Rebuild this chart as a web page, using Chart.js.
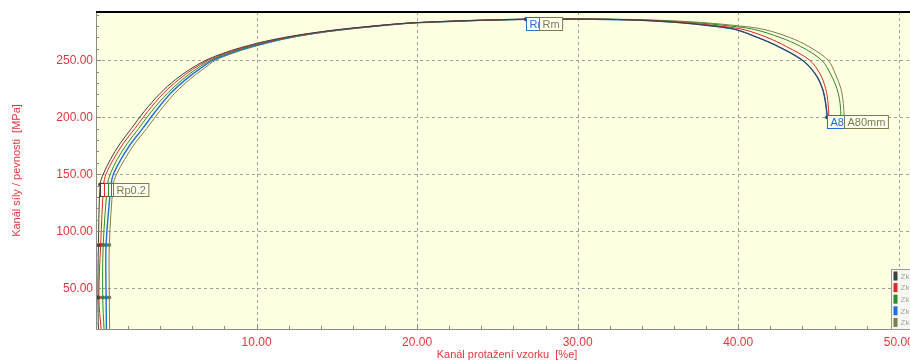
<!DOCTYPE html>
<html>
<head>
<meta charset="utf-8">
<script src="https://cdn.jsdelivr.net/npm/chart.js@4.4.0/dist/chart.umd.min.js"></script>
<style>
  html, body { margin: 0; padding: 0; background: #fff; overflow: hidden; }
  #wrap { width: 920px; height: 362px; }
</style>
</head>
<body>
<div id="wrap"><canvas id="trhChart" width="920" height="362"></canvas></div>
<script>
// napětí [MPa] - společné úrovně pro všechny vzorky (nárůst, maximum, pokles)
const napeti = [14, 42, 88, 141, 150, 163, 177, 190, 205, 221, 233, 242, 250, 256, 261, 268, 274, 279, 283,
                286,
                286, 285, 283, 280, 277, 270, 262, 250, 238, 225, 212, 200];

// protažení [%] jednotlivých vzorků
const protazeniZk1 = [0.15, 0.12, 0.15, 0.26, 0.45, 0.90, 1.50, 2.20, 3.00, 4.00, 4.95, 5.85, 6.85, 7.90, 9.00, 11.0, 13.5, 16.5, 20.0,
                      26.8,
                      31.0, 34.0, 36.3, 38.4, 39.8, 41.2, 42.5, 44.0, 44.8, 45.25, 45.45, 45.55];
const protazeniZk2 = [0.32, 0.18, 0.29, 0.48, 0.62, 1.08, 1.70, 2.42, 3.22, 4.20, 5.15, 6.02, 7.00, 8.05, 9.15, 11.15, 13.6, 16.6, 20.0,
                      26.8,
                      31.0, 34.2, 36.6, 38.8, 40.3, 41.8, 43.0, 44.45, 45.1, 45.45, 45.6, 45.65];
const protazeniZk3 = [0.50, 0.42, 0.45, 0.72, 0.88, 1.32, 1.95, 2.65, 3.45, 4.45, 5.38, 6.22, 7.15, 8.20, 9.30, 11.3, 13.7, 16.7, 20.1,
                      27.5,
                      31.5, 34.6, 37.2, 39.5, 41.0, 42.6, 43.9, 45.2, 45.75, 46.15, 46.35, 46.4];
const protazeniZk4 = [0.65, 0.63, 0.63, 0.94, 1.08, 1.55, 2.18, 2.90, 3.70, 4.65, 5.58, 6.42, 7.30, 8.35, 9.45, 11.4, 13.8, 16.8, 20.1,
                      26.8,
                      31.0, 34.0, 36.3, 38.4, 39.8, 41.2, 42.5, 44.0, 44.8, 45.25, 45.45, 45.55];
const protazeniZk5 = [0.85, 0.83, 0.83, 1.08, 1.28, 1.78, 2.42, 3.15, 3.95, 4.90, 5.82, 6.65, 7.45, 8.50, 9.60, 11.5, 13.9, 16.9, 20.2,
                      27.6,
                      32.0, 35.2, 37.8, 40.1, 41.6, 43.2, 44.4, 45.6, 46.05, 46.4, 46.55, 46.6];

const nazvyVzorku = ['Zk. 1', 'Zk. 2', 'Zk. 3', 'Zk. 4', 'Zk. 5'];
const barvyVzorku = ['#404040', '#e02828', '#2a8c2a', '#1f6fe0', '#7d7d4a'];

// body s vyznačením a jejich popisky
const znackyIdx = [1, 2, 3, 19, 31];
const popisky = { 3: 'Rp0.2', 19: 'Rm', 31: 'A80mm' };

// popisky os
const xPopisky = [10, 20, 30, 40, 50];
const yPopisky = [50, 100, 150, 200, 250];

const CERVENA = '#e4363c';
const PISMO = "'Liberation Sans', Arial, sans-serif";

const vsechnaProtazeni = [protazeniZk1, protazeniZk2, protazeniZk3, protazeniZk4, protazeniZk5];

const datasety = vsechnaProtazeni.map((prot, i) => ({
    label: nazvyVzorku[i],
    data: prot.map((x, j) => ({ x: x, y: napeti[j] })),
    borderColor: barvyVzorku[i],
    backgroundColor: barvyVzorku[i],
    borderWidth: i === 3 ? 1.4 : 1,
    tension: 0.35,
    pointRadius: ctx => znackyIdx.includes(ctx.dataIndex) ? 2 : 0,
    pointBorderWidth: 0,
    pointHoverRadius: 0
}));

// pozadí plochy grafu, mřížka, okraje a vnitřní rysky
const pozadiPlugin = {
    id: 'pozadi',
    beforeDraw(chart) {
        const { ctx, chartArea: a } = chart;
        ctx.save();
        ctx.fillStyle = '#ffffe1';
        ctx.fillRect(a.left, a.top, a.right - a.left, a.bottom - a.top);
        ctx.restore();
    },
    beforeDatasetsDraw(chart) {
        const { ctx, chartArea: a, scales } = chart;
        ctx.save();
        ctx.strokeStyle = '#a0a0a0';
        ctx.lineWidth = 1;
        ctx.setLineDash([3, 3]);
        yPopisky.forEach(v => {
            const y = Math.round(scales.y.getPixelForValue(v)) + 0.5;
            ctx.beginPath();
            ctx.moveTo(a.left, y);
            ctx.lineTo(a.right, y);
            ctx.stroke();
        });
        xPopisky.forEach(v => {
            const x = Math.round(scales.x.getPixelForValue(v)) + 0.5;
            ctx.beginPath();
            ctx.moveTo(x, a.top);
            ctx.lineTo(x, a.bottom);
            ctx.stroke();
        });
        ctx.restore();
    },
    afterDraw(chart) {
        const { ctx, chartArea: a, scales } = chart;
        ctx.save();
        ctx.strokeStyle = '#8a8a8a';
        ctx.lineWidth = 1;
        // levý a spodní okraj
        ctx.beginPath();
        ctx.moveTo(a.left + 0.5, a.top);
        ctx.lineTo(a.left + 0.5, a.bottom + 0.5);
        ctx.lineTo(a.right, a.bottom + 0.5);
        ctx.stroke();
        // rysky osy y po 10 MPa
        scales.y.ticks.forEach(t => {
            const y = Math.round(scales.y.getPixelForValue(t.value)) + 0.5;
            const len = t.value % 50 === 0 ? 5 : 3;
            ctx.beginPath();
            ctx.moveTo(a.left, y);
            ctx.lineTo(a.left + len, y);
            ctx.stroke();
        });
        // rysky osy x po 2 %
        scales.x.ticks.forEach(t => {
            const x = Math.round(scales.x.getPixelForValue(t.value)) + 0.5;
            const len = t.value % 10 === 0 ? 5 : 3;
            ctx.beginPath();
            ctx.moveTo(x, a.bottom);
            ctx.lineTo(x, a.bottom - len);
            ctx.stroke();
        });
        // horní okraj
        ctx.strokeStyle = '#000';
        ctx.lineWidth = 2;
        ctx.beginPath();
        ctx.moveTo(a.left, a.top);
        ctx.lineTo(a.right, a.top);
        ctx.stroke();
        ctx.restore();
    }
};

// popisky Rp0.2 / Rm / A80mm u vyznačených bodů
const popiskyPlugin = {
    id: 'popisky',
    afterDatasetsDraw(chart) {
        const { ctx } = chart;
        ctx.save();
        ctx.font = '11px ' + PISMO;
        ctx.textBaseline = 'middle';
        chart.data.datasets.forEach((ds, i) => {
            const meta = chart.getDatasetMeta(i);
            Object.keys(popisky).forEach(k => {
                const bod = meta.data[+k];
                const text = popisky[k];
                const w = ctx.measureText(text).width + 6;
                const h = 13;
                const x = Math.round(bod.x) + 0.5;
                const y = Math.round(bod.y) - 1.5;
                ctx.fillStyle = '#fffff4';
                ctx.fillRect(x, y, w, h);
                ctx.strokeStyle = ds.borderColor;
                ctx.lineWidth = 1;
                ctx.strokeRect(x, y, w, h);
                ctx.fillStyle = ds.borderColor;
                ctx.fillText(text, x + 3, y + h / 2 + 0.5);
            });
        });
        ctx.restore();
    }
};

// malá legenda v pravém dolním rohu (částečně mimo okno)
const legendaPlugin = {
    id: 'legendaVzorku',
    afterDraw(chart) {
        const { ctx } = chart;
        const x0 = 891.5, y0 = 269.5;
        ctx.save();
        ctx.fillStyle = '#f7f7f2';
        ctx.fillRect(x0, y0, 60, 60);
        ctx.strokeStyle = '#9a9a9a';
        ctx.strokeRect(x0, y0, 60, 60);
        ctx.font = '8px ' + PISMO;
        ctx.textBaseline = 'middle';
        chart.data.datasets.forEach((ds, i) => {
            const yy = y0 + 2 + i * 11.6;
            ctx.fillStyle = ds.borderColor;
            ctx.fillRect(x0 + 2, yy, 4, 9);
            ctx.fillStyle = '#a5a5a5';
            ctx.fillText(ds.label, x0 + 9, yy + 5);
        });
        ctx.restore();
    }
};

new Chart(document.getElementById('trhChart'), {
    type: 'line',
    data: { datasets: datasety },
    options: {
        responsive: false,
        animation: false,
        devicePixelRatio: 1,
        layout: { padding: { top: 12, right: 0, left: 0, bottom: 0 } },
        plugins: {
            legend: { display: false },
            tooltip: { enabled: false }
        },
        scales: {
            x: {
                type: 'linear',
                min: 0,
                max: 51.2,
                afterFit: s => { s.height = 33; },
                afterBuildTicks: s => {
                    const t = [];
                    for (let v = 2; v <= 50; v += 2) t.push({ value: v });
                    s.ticks = t;
                },
                ticks: {
                    color: CERVENA,
                    font: { family: PISMO, size: 12 },
                    padding: 6,
                    maxRotation: 0,
                    autoSkip: false,
                    callback: v => xPopisky.includes(v) ? v.toFixed(2) : ''
                },
                grid: { display: false, drawTicks: false },
                border: { display: false },
                title: {
                    display: true,
                    text: 'Kanál protažení vzorku  [%e]',
                    color: CERVENA,
                    font: { family: PISMO, size: 11 },
                    padding: { top: 0, bottom: 0 }
                }
            },
            y: {
                min: 14.3,
                max: 292.3,
                afterFit: s => { s.width = 96; },
                afterBuildTicks: s => {
                    const t = [];
                    for (let v = 20; v <= 290; v += 10) t.push({ value: v });
                    s.ticks = t;
                },
                ticks: {
                    color: CERVENA,
                    font: { family: PISMO, size: 12 },
                    padding: 3,
                    autoSkip: false,
                    callback: v => yPopisky.includes(v) ? v.toFixed(2) : ''
                },
                grid: { display: false, drawTicks: false },
                border: { display: false },
                title: {
                    display: true,
                    text: 'Kanál síly / pevnosti  [MPa]',
                    color: CERVENA,
                    font: { family: PISMO, size: 11 },
                    padding: { top: 10, bottom: 10 }
                }
            }
        }
    },
    plugins: [pozadiPlugin, popiskyPlugin, legendaPlugin]
});
</script>
</body>
</html>
